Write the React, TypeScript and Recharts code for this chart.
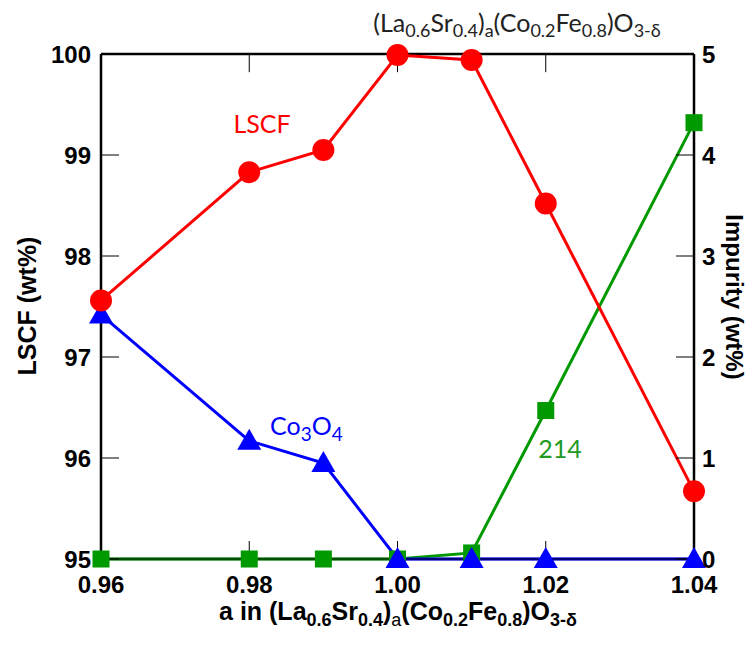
import { LineChart, Line, XAxis, YAxis, ReferenceLine } from "recharts";

const aValues = [0.96, 0.98, 0.99, 1.0, 1.01, 1.02, 1.04];
const lscfWt = [97.56, 98.83, 99.05, 99.99, 99.94, 98.52, 95.67];
const co3o4Wt = [2.42, 1.17, 0.95, 0, 0, 0, 0];
const p214Wt = [0, 0, 0, 0, 0.06, 1.47, 4.32];

const xTicks = [0.96, 0.98, 1.0, 1.02, 1.04];
const leftTicks = [95, 96, 97, 98, 99, 100];
const rightTicks = [0, 1, 2, 3, 4, 5];

const data = aValues.map((a, i) => ({ a, lscf: lscfWt[i], co3o4: co3o4Wt[i], p214: p214Wt[i] }));

const RED = "#ff0000";
const BLUE = "#0000ff";
const GREEN = "#009900";
// negative tick size -> tick marks point into the plot
const IN = -18;
// top frame tick length in LSCF units (~18px)
const TOP_TICK = 0.18;
const tickFont = { fontFamily: "'Liberation Sans', Arial, sans-serif", fontWeight: 700, fontSize: 24, fill: "#000" };

const renderTriangle = (props: any) => {
  const { cx, cy, index } = props;
  if (cx == null || cy == null) return <g key={`t${index}`} />;
  return <polygon key={`t${index}`} points={`${cx},${cy - 12} ${cx - 12},${cy + 9} ${cx + 12},${cy + 9}`} fill={BLUE} />;
};

const renderSquare = (props: any) => {
  const { cx, cy, index } = props;
  if (cx == null || cy == null) return <g key={`s${index}`} />;
  return <rect key={`s${index}`} x={cx - 8.5} y={cy - 8.5} width={17} height={17} fill={GREEN} />;
};

const annoFont = { fontFamily: "Lato, 'Open Sans', sans-serif", fontSize: 25 };
const axisTitleFont = { fontFamily: "'Liberation Sans', Arial, sans-serif", fontWeight: 700, fontSize: 24, fill: "#000" };

export default function App() {
  return (
    <div style={{ position: "relative", width: 739, height: 637 }}>
      {/* text layer sits under the (transparent) chart */}
      <svg width={739} height={637} style={{ position: "absolute", left: 0, top: 0, pointerEvents: "none" }}>
        <text x={509} y={24} textAnchor="middle" {...annoFont} fontSize={25} fill="#222">
          (La<tspan fontSize={18} dy={5}>0.6</tspan>
          <tspan dy={-5}>Sr</tspan><tspan fontSize={18} dy={5}>0.4</tspan>
          <tspan dy={-5}>)</tspan><tspan fontSize={18} dy={5}>a</tspan>
          <tspan dy={-5}>(Co</tspan><tspan fontSize={18} dy={5}>0.2</tspan>
          <tspan dy={-5}>Fe</tspan><tspan fontSize={18} dy={5}>0.8</tspan>
          <tspan dy={-5}>)O</tspan><tspan fontSize={18} dy={5}>3-δ</tspan>
        </text>
        <text x={254} y={125} textAnchor="middle" {...annoFont} fill={RED}>LSCF</text>
        <text x={262} y={427} textAnchor="start" {...annoFont} fill={BLUE}>
          Co<tspan fontSize={19} dy={6}>3</tspan><tspan dy={-6}>O</tspan><tspan fontSize={19} dy={6}>4</tspan>
        </text>
        <text x={552} y={450} textAnchor="middle" {...annoFont} fill="#229922">214</text>
        <text transform="translate(19,298) rotate(-90)" textAnchor="middle" dominantBaseline="central" {...axisTitleFont} fontSize={25}>LSCF (wt%)</text>
        <text transform="translate(726,289) rotate(90)" textAnchor="middle" dominantBaseline="central" {...axisTitleFont}>Impurity (wt%)</text>
        <text x={390} y={612} textAnchor="middle" {...axisTitleFont} fontSize={25}>
          a in (La<tspan fontSize={18} dy={6}>0.6</tspan>
          <tspan dy={-6}>Sr</tspan><tspan fontSize={18} dy={6}>0.4</tspan>
          <tspan dy={-6}>)</tspan><tspan fontSize={18} dy={6} fontWeight={400}>a</tspan>
          <tspan dy={-6}>(Co</tspan><tspan fontSize={18} dy={6}>0.2</tspan>
          <tspan dy={-6}>Fe</tspan><tspan fontSize={18} dy={6}>0.8</tspan>
          <tspan dy={-6}>)O</tspan><tspan fontSize={18} dy={6}>3-δ</tspan>
        </text>
      </svg>
      <LineChart width={739} height={637} data={data} margin={{ top: 46, right: 13, bottom: 26, left: 33 }}>
        <XAxis
          dataKey="a"
          type="number"
          domain={[0.96, 1.04]}
          ticks={xTicks}
          height={60}
          tickSize={IN}
          tickMargin={17 - IN}
          stroke="#000"
          tick={tickFont}
          tickFormatter={(v: number) => v.toFixed(2)}
          interval={0}
        />
        <YAxis
          yAxisId="left"
          domain={[95, 100]}
          ticks={leftTicks}
          width={60}
          tickSize={IN}
          tickMargin={10 - IN}
          stroke="#000"
          tick={tickFont}
          interval={0}
        />
        <YAxis
          yAxisId="right"
          orientation="right"
          domain={[0, 5]}
          ticks={rightTicks}
          width={40}
          tickSize={IN}
          tickMargin={8 - IN}
          stroke="#000"
          tick={tickFont}
          interval={0}
        />
        {/* heavier frame on all four sides */}
        <ReferenceLine yAxisId="left" y={100} stroke="#000" strokeWidth={2.5} />
        <ReferenceLine yAxisId="left" y={95} stroke="#000" strokeWidth={2.5} />
        <ReferenceLine yAxisId="left" x={0.96} stroke="#000" strokeWidth={2.5} />
        <ReferenceLine yAxisId="left" x={1.04} stroke="#000" strokeWidth={2.5} />
        {xTicks.slice(1, -1).map((t) => (
          <ReferenceLine key={t} yAxisId="left" segment={[{ x: t, y: 100 }, { x: t, y: 100 - TOP_TICK }]} stroke="#000" />
        ))}
        <Line yAxisId="right" dataKey="p214" stroke={GREEN} strokeWidth={3} dot={renderSquare} isAnimationActive={false} />
        <Line yAxisId="right" dataKey="co3o4" stroke={BLUE} strokeWidth={3} dot={renderTriangle} isAnimationActive={false} />
        <Line yAxisId="left" dataKey="lscf" stroke={RED} strokeWidth={3} dot={{ r: 11, fill: RED, stroke: "none" }} isAnimationActive={false} />
      </LineChart>
    </div>
  );
}
